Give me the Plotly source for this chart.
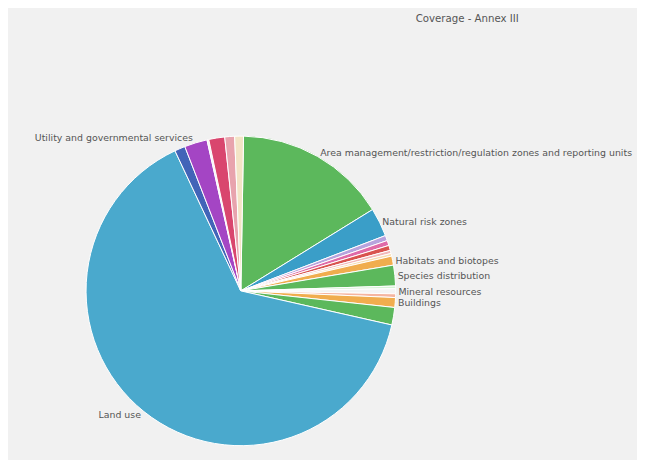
import plotly.graph_objects as go

themes = [
    "Area management/restriction/regulation zones and reporting units",
    "Natural risk zones",
    "Atmospheric conditions",
    "Meteorological geographical features",
    "Oceanographic geographical features",
    "Sea regions",
    "Bio-geographical regions",
    "Habitats and biotopes",
    "Species distribution",
    "Energy resources",
    "Mineral resources",
    "Statistical units",
    "Buildings",
    "Soil",
    "Land use",
    "Human health and safety",
    "Utility and governmental services",
    "Environmental monitoring facilities",
    "Production and industrial facilities",
    "Agricultural and aquaculture facilities",
    "Population distribution — demography",
]
coverage = [16.0, 3.0, 0.55, 0.53, 0.53, 0.33, 0.28, 0.95, 2.17, 0.28, 0.53,
            0.39, 1.03, 1.83, 64.8, 1.11, 2.39, 0.19, 1.67, 1.03, 0.92]
shown_labels = ["Area management/restriction/regulation zones and reporting units",
                "Natural risk zones", "Habitats and biotopes", "Species distribution",
                "Mineral resources", "Buildings", "Land use",
                "Utility and governmental services"]

colors = ["#5cb85c", "#3a9ec8", "#b7a3dd", "#e06aa8", "#d9534f", "#f2b8b8",
          "#f7dcb0", "#f0ad4e", "#5cb85c", "#d6f2d6", "#f4f4f4", "#f5b5a0",
          "#f0ad4e", "#5cb85c", "#4aa9cd", "#4264b8", "#a445c4", "#f2f2f2",
          "#d9466e", "#e8a3ad", "#f3e4c6"]

text = [t if t in shown_labels else "" for t in themes]

fig = go.Figure(go.Pie(
    labels=themes,
    values=coverage,
    text=text,
    textinfo="text",
    textposition="outside",
    sort=False,
    direction="clockwise",
    rotation=1,
    marker=dict(colors=colors, line=dict(color="#ffffff", width=1)),
    textfont=dict(family="DejaVu Sans", size=9.4, color="#555555"),
    domain=dict(x=[0.121, 0.601], y=[0.048, 0.722]),
    showlegend=False,
    hoverinfo="label+percent",
))

fig.update_layout(
    width=645, height=460,
    margin=dict(l=0, r=0, t=0, b=0),
    paper_bgcolor="#f1f1f1",
    plot_bgcolor="#f1f1f1",
    title=dict(text="Coverage - Annex III", x=0.712, xanchor="center",
               y=0.978, yanchor="middle",
               font=dict(family="DejaVu Sans", size=10.2, color="#555555")),
)

fig.write_html("out.html")
